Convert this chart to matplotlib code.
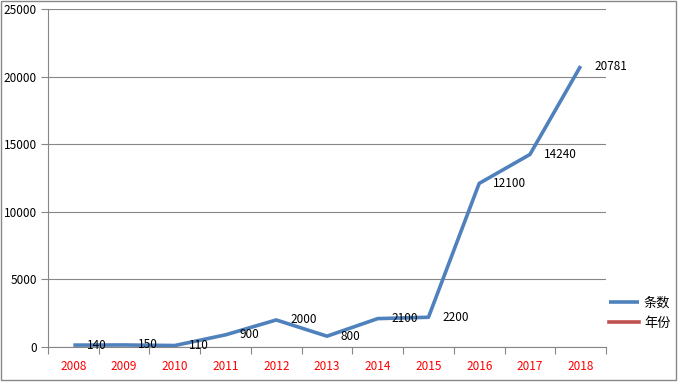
import numpy as np
import matplotlib.pyplot as plt
from matplotlib.patches import Rectangle

plt.rcParams['font.family'] = ['Noto Sans CJK SC', 'DejaVu Sans']

# dane
lata = ['2008', '2009', '2010', '2011', '2012', '2013', '2014', '2015', '2016', '2017', '2018']
liczba = [140, 150, 110, 900, 2000, 800, 2100, 2200, 12100, 14240, 20781]

W, H = 679, 383
fig = plt.figure(figsize=(W / 100, H / 100), dpi=100)
ax = fig.add_axes([48 / W, (H - 347) / H, 558 / W, 338 / H])

x = np.arange(len(lata))
ax.plot(x, liczba, color='#4F81BD', lw=2.6, label='条数', solid_capstyle='butt')
ax.plot([], [], color='#C0504D', lw=2.6, label='年份')

for xi, v in zip(x, liczba):
    ax.annotate(str(v), (xi, v), xytext=(10, 0), textcoords='offset points',
                fontsize=8.5, va='center', ha='left', color='black')

ax.set_xlim(-0.5, len(lata) - 0.5)
ax.set_ylim(0, 25000)
ax.set_yticks(range(0, 25001, 5000))
ax.set_xticks(x)
ax.set_xticklabels(lata, color='red', fontsize=8.5)
ax.set_xticks(np.arange(-0.5, len(lata)), minor=True)
ax.tick_params(axis='x', which='major', length=0, pad=9)
ax.tick_params(axis='x', which='minor', length=5, color='#868686', width=0.8)
ax.tick_params(axis='y', length=5, color='#868686', width=0.8, labelsize=8.5, pad=3)

ax.grid(axis='y', color='#868686', lw=0.8)
ax.set_axisbelow(True)
for s in ['top', 'right']:
    ax.spines[s].set_visible(False)
for s in ['left', 'bottom']:
    ax.spines[s].set_color('#868686')
    ax.spines[s].set_linewidth(0.8)

fig.legend(loc='upper left', bbox_to_anchor=(609 / W, 1 - 297 / H), frameon=False,
           fontsize=9.5, handlelength=2.3, handletextpad=0.35, labelspacing=0.5,
           borderpad=0, borderaxespad=0)

fig.patches.append(Rectangle((1 / W, 3 / H), 675 / W, 379 / H, transform=fig.transFigure,
                             fill=False, edgecolor='#898989', lw=1))

fig.savefig('out.png', dpi=100)
